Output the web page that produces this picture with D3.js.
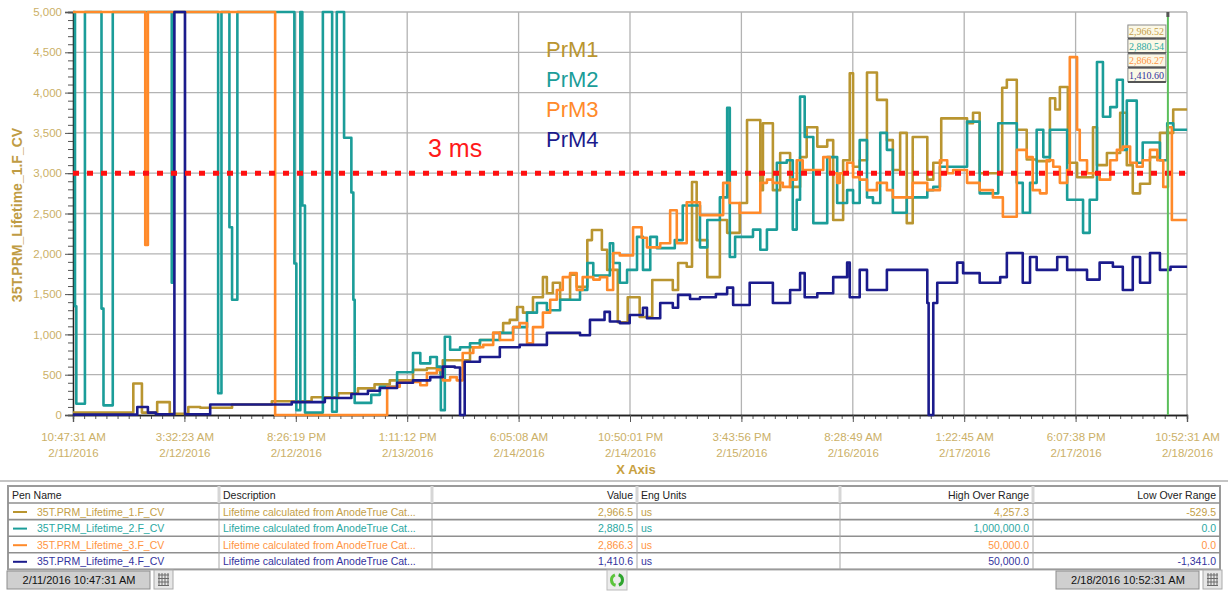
<!DOCTYPE html>
<html>
<head>
<meta charset="utf-8">
<script src="https://cdn.jsdelivr.net/npm/d3@7"></script>
<style>
body { margin: 0; background: #fff; }
svg { display: block; font-family: Arial, "Liberation Sans", sans-serif; }
</style>
</head>
<body>
<svg id="chart" width="1228" height="593"></svg>
<script>
// trend values: [hours since 2/11/2016 10:47:31 AM, lifetime in us]
var prm1 = [[0,30],[9.1,390],[10.4,30],[12.7,160],[14.6,15],[17.4,100],[19.2,90],[24,130],[30,170],[36,220],[40,270],[43,330],[45.5,380],[47.8,430],[51.3,560],[53.4,580],[55.4,520],[55.8,680],[59.9,840],[61.4,930],[63.4,1020],[64.9,1140],[65.9,1180],[67.0,1340],[67.9,1270],[69.4,1460],[70.9,1710],[71.5,1510],[72.4,1640],[73.5,1430],[75.0,1740],[76.0,1590],[77.6,2170],[78.3,2295],[79.8,2050],[80.6,1800],[82.2,1150],[83.7,1460],[85.5,1215],[87.4,1675],[90.5,1550],[91.3,1886],[92.6,1840],[93.4,2890],[94.1,2170],[95.7,1710],[97.6,2420],[98.7,2260],[100.6,2630],[101.7,3660],[103.7,2790],[104.1,3620],[105.6,2790],[106.7,3250],[108.2,2830],[109.7,3200],[110.7,3570],[112.3,3330],[113.8,3410],[114.7,2420],[116.2,3160],[117.2,4240],[117.7,3080],[118.7,3160],[119.8,4250],[121.3,3910],[122.8,3410],[123.7,3040],[124.8,3500],[125.8,2380],[126.7,3450],[128.9,2920],[129.8,3130],[131.0,3680],[134.9,3620],[135.8,3750],[136.8,3000],[140.2,4060],[140.9,4160],[142.4,3540],[143.9,3170],[145.4,3150],[147.4,3930],[148.2,3790],[148.9,4070],[150.1,3130],[151.5,2950],[153.9,3570],[154.5,3100],[156.0,3250],[158.0,3750],[159.0,3100],[159.9,2750],[161.0,2870],[162.5,3200],[164.0,3500],[166.0,3790],[168.1,3790]];

var prm2 = [[0,5000],[0.3,1350],[0.5,140],[1.8,5000],[4.3,1320],[4.6,120],[6.0,5000],[14.9,1640],[15.1,5000],[21.9,270],[22.4,5000],[23.6,2330],[24.0,1430],[24.8,5000],[33.4,1880],[33.7,60],[34.3,5000],[34.6,2600],[35.0,30],[37.7,5000],[39.1,40],[39.8,5000],[40.9,3440],[42.0,2760],[42.3,1430],[42.5,150],[45.0,250],[46.3,350],[48.9,530],[51.3,770],[52.4,640],[53.9,720],[54.9,600],[55.5,60],[56.1,970],[56.9,810],[58.4,840],[59.9,890],[61.4,930],[64.4,1020],[66.4,1090],[68.5,1270],[70.0,1390],[71.5,1300],[73.5,1430],[76.5,1550],[77.6,1886],[78.5,1730],[81.0,2130],[81.5,1886],[82.5,1640],[83.6,1800],[85.1,2210],[86.0,1800],[87.1,2210],[88.1,2070],[90.8,2170],[92.0,2600],[94.6,2080],[95.7,2420],[97.6,2700],[98.7,3810],[99.1,1960],[99.9,2210],[102.6,2300],[103.7,2050],[104.7,2300],[106.2,3130],[107.7,3160],[108.6,2300],[109.2,2670],[109.7,3950],[110.4,3450],[111.7,2380],[113.8,3200],[115.3,2630],[116.8,2790],[117.7,2630],[118.7,3410],[119.8,2700],[120.7,2630],[121.8,3500],[122.8,3290],[123.7,2510],[125.8,2700],[128.9,2790],[129.8,2830],[130.8,3080],[134.9,3640],[136.8,2750],[139.6,3620],[142.4,2880],[143.3,2510],[144.4,2880],[145.4,3540],[146.4,3200],[147.4,3540],[150.0,2670],[152.4,2260],[153.4,2670],[154.5,4380],[155.4,3700],[156.5,3820],[157.5,4160],[158.4,3290],[159.0,3900],[160.5,3130],[161.4,3380],[164.0,3160],[165.1,3620],[166.0,3540],[168.1,3540]];

var prm3 = [[0,5000],[10.9,2110],[11.3,5000],[30.5,0],[47.4,350],[49.3,410],[52.4,370],[53.4,520],[54.9,560],[55.8,430],[56.9,470],[57.9,430],[58.8,770],[60.4,840],[61.9,870],[63.4,1020],[64.4,930],[66.4,1090],[67.4,1140],[68.5,890],[69.4,1090],[70.9,1270],[72.0,1430],[73.0,1550],[73.9,1710],[75.0,1760],[76.0,1550],[76.9,1710],[78.5,1680],[79.5,1710],[80.6,1550],[81.5,2010],[82.5,1980],[84.5,2330],[85.8,2200],[86.6,2080],[88.6,2130],[90.1,2540],[91.1,2130],[92.6,2640],[94.6,2480],[98.1,2880],[99.1,2630],[100.6,2510],[103.7,2880],[104.7,2920],[105.6,2880],[107.1,2830],[108.2,2920],[109.2,3160],[110.1,3040],[113.2,3200],[114.2,3000],[115.3,2880],[115.7,3000],[116.8,3130],[117.7,2950],[118.7,2920],[119.8,2790],[121.3,2880],[122.8,2790],[123.7,2700],[126.7,2880],[128.9,2790],[130.8,3160],[131.9,3000],[132.8,3040],[134.9,2880],[136.8,2790],[138.8,2700],[140.3,2460],[142.4,3290],[143.9,3200],[144.8,2790],[145.9,2750],[146.9,3160],[147.9,3080],[148.9,2880],[150.0,3040],[150.4,4440],[151.5,3540],[151.9,3160],[153.0,3000],[154.9,2920],[156.5,3160],[157.5,3290],[158.4,3330],[159.5,3130],[160.5,3080],[161.4,3160],[162.5,3290],[163.6,3160],[164.5,2830],[165.2,3570],[165.8,2420],[168.1,2420]];

var prm4 = [[0,5],[9.7,100],[11.3,30],[12.5,10],[15.3,5000],[16.9,10],[20.7,130],[27,130],[33,160],[38,210],[42,260],[44.5,300],[46.3,335],[48.9,400],[51.3,430],[53.9,470],[55.8,600],[57.6,590],[58.4,0],[59.1,660],[61.4,720],[64.4,840],[67.4,870],[71.5,1020],[76.5,990],[78.0,1180],[80.2,1280],[81.0,1160],[82.5,1140],[84.0,1240],[86.0,1330],[86.6,1200],[88.6,1390],[90.5,1330],[91.3,1490],[93.1,1440],[94.6,1460],[97.0,1500],[98.7,1580],[99.6,1365],[102.1,1640],[105.6,1390],[108.2,1550],[109.7,1760],[110.4,1460],[112.3,1510],[114.7,1710],[116.8,1890],[117.2,1460],[118.7,1800],[119.8,1550],[122.8,1800],[128.9,1390],[129.1,0],[129.8,1390],[130.4,1640],[133.4,1890],[134.3,1760],[136.8,1640],[139.9,1710],[140.9,2010],[143.3,1640],[144.4,1960],[145.4,1800],[148.5,1960],[150.0,1800],[153.0,1680],[154.9,1890],[156.9,1840],[158.4,1550],[159.9,1960],[161.0,1640],[162.5,2010],[164.0,1800],[165.6,1840],[168.1,1840]];

var seriesNames = ["PrM1", "PrM2", "PrM3", "PrM4"];
var penNames = ["35T.PRM_Lifetime_1.F_CV", "35T.PRM_Lifetime_2.F_CV", "35T.PRM_Lifetime_3.F_CV", "35T.PRM_Lifetime_4.F_CV"];
var description = "Lifetime calculated from AnodeTrue Cat...";
var penValues = ["2,966.5", "2,880.5", "2,866.3", "1,410.6"];
var engUnits = ["us", "us", "us", "us"];
var highOverRange = ["4,257.3", "1,000,000.0", "50,000.0", "50,000.0"];
var lowOverRange = ["-529.5", "0.0", "0.0", "-1,341.0"];
var cursorValues = ["2,966.52", "2,880.54", "2,866.27", "1,410.60"];

var xTickTimes = ["10:47:31 AM", "3:32:23 AM", "8:26:19 PM", "1:11:12 PM", "6:05:08 AM", "10:50:01 PM", "3:43:56 PM", "8:28:49 AM", "1:22:45 AM", "6:07:38 PM", "10:52:31 AM"];
var xTickDates = ["2/11/2016", "2/12/2016", "2/12/2016", "2/13/2016", "2/14/2016", "2/14/2016", "2/15/2016", "2/16/2016", "2/17/2016", "2/17/2016", "2/18/2016"];
var startStamp = "2/11/2016 10:47:31 AM", endStamp = "2/18/2016 10:52:31 AM";

var spanHours = 168.083, cursorHour = 165.2;
var yMax = 5000, threshold = 3000;

var lineColors = ["#b99530", "#1b9d99", "#ff8a2a", "#1b1b8c"];
var textColors = ["#c4a048", "#2aa8a2", "#ff9544", "#33339e"];
var tickText = "#cbb067";

var svg = d3.select("#chart");
var plotL = 73, plotR = 1187, plotT = 12, plotB = 415;

var x = d3.scaleLinear().domain([0, spanHours]).range([plotL, plotR]);
var y = d3.scaleLinear().domain([0, yMax]).range([plotB, plotT]);

var majorX = d3.range(11).map(function(i) { return i * spanHours / 10; });
var minorX = d3.range(101).map(function(i) { return i * spanHours / 100; });

// grid
var grid = svg.append("g").attr("stroke", "#b3b3b3").attr("stroke-width", 1.3);
grid.selectAll("line.h").data(d3.range(500, yMax + 1, 500)).enter().append("line")
    .attr("x1", plotL).attr("x2", plotR)
    .attr("y1", function(d) { return y(d); }).attr("y2", function(d) { return y(d); });
grid.selectAll("line.v").data(majorX.slice(1)).enter().append("line")
    .attr("y1", plotT).attr("y2", plotB)
    .attr("x1", function(d) { return x(d); }).attr("x2", function(d) { return x(d); });

// y axis
var yMinor = svg.append("g").attr("transform", "translate(" + plotL + ",0)")
    .call(d3.axisLeft(y).tickValues(d3.range(0, yMax + 1, 100)).tickSize(5).tickFormat(""));
var yAxis = svg.append("g").attr("transform", "translate(" + plotL + ",0)")
    .call(d3.axisLeft(y).tickValues(d3.range(0, yMax + 1, 500)).tickSize(8).tickPadding(3).tickFormat(d3.format(",")));
[yMinor, yAxis].forEach(function(g) {
    g.select(".domain").attr("stroke", "#222").attr("stroke-width", 1.3);
    g.selectAll(".tick line").attr("stroke", "#555");
});
yAxis.selectAll(".tick text").attr("fill", tickText).attr("font-size", 11.5)
    .attr("font-family", "Arial, 'Liberation Sans', sans-serif");

svg.append("text")
    .attr("transform", "translate(22,215) rotate(-90)")
    .attr("text-anchor", "middle")
    .attr("font-size", 14).attr("font-weight", "bold")
    .attr("fill", "#bf9c44")
    .text(penNames[0]);

// x axis
var xMinor = svg.append("g").attr("transform", "translate(0," + plotB + ")")
    .call(d3.axisBottom(x).tickValues(minorX).tickSize(4).tickFormat(""));
var xAxis = svg.append("g").attr("transform", "translate(0," + plotB + ")")
    .call(d3.axisBottom(x).tickValues(majorX).tickSize(7).tickFormat(""));
[xMinor, xAxis].forEach(function(g) {
    g.select(".domain").attr("stroke", "#222").attr("stroke-width", 1.3);
    g.selectAll(".tick line").attr("stroke", "#555");
});
xAxis.selectAll(".tick").each(function(d, i) {
    var t = d3.select(this).append("text")
        .attr("fill", tickText).attr("font-size", 11.5).attr("text-anchor", "middle")
        .attr("font-family", "Arial, 'Liberation Sans', sans-serif");
    t.append("tspan").attr("x", 0).attr("y", 26).text(xTickTimes[i]);
    t.append("tspan").attr("x", 0).attr("y", 42).text(xTickDates[i]);
});
svg.append("text").attr("x", 636).attr("y", 474).attr("text-anchor", "middle")
    .attr("font-size", 13).attr("font-weight", "bold").attr("fill", "#c8a040")
    .text("X Axis");

// trends
var line = d3.line()
    .x(function(d) { return x(d[0]); })
    .y(function(d) { return y(d[1]); })
    .curve(d3.curveStepAfter);

[prm1, prm2, prm3, prm4].forEach(function(s, i) {
    svg.append("path").datum(s)
        .attr("fill", "none")
        .attr("stroke", lineColors[i])
        .attr("stroke-width", 2.6)
        .attr("stroke-linejoin", "round")
        .attr("d", line);
});

// 3 ms limit
svg.append("line")
    .attr("x1", plotL).attr("x2", plotR)
    .attr("y1", y(threshold)).attr("y2", y(threshold))
    .attr("stroke", "#ff1010").attr("stroke-width", 5)
    .attr("stroke-dasharray", "6,8");
svg.append("text").attr("x", 428).attr("y", 157)
    .attr("font-size", 25).attr("fill", "#ff1a1a").text("3 ms");

// legend
svg.selectAll("text.legend").data(seriesNames).enter().append("text")
    .attr("class", "legend")
    .attr("x", 546).attr("y", function(d, i) { return 57 + i * 30; })
    .attr("font-size", 22).attr("fill", function(d, i) { return lineColors[i]; })
    .text(function(d) { return d; });

// cursor
var cx = x(cursorHour);
svg.append("line").attr("x1", cx).attr("x2", cx).attr("y1", plotT).attr("y2", plotB)
    .attr("stroke", "#5bbf5b").attr("stroke-width", 2);
svg.append("rect").attr("x", cx - 1.5).attr("y", plotT).attr("width", 3).attr("height", 5).attr("fill", "#555");

var box = svg.append("g");
cursorValues.forEach(function(v, i) {
    var by = 25 + i * 14.5;
    box.append("rect").attr("x", cx - 40).attr("y", by).attr("width", 38).attr("height", 13)
        .attr("fill", "#fbf8e6").attr("stroke", "#8a8a8a").attr("stroke-width", 1);
    box.append("line").attr("x1", cx - 40).attr("x2", cx - 2).attr("y1", by + 13.5).attr("y2", by + 13.5)
        .attr("stroke", "#555").attr("stroke-width", 2);
    box.append("text").attr("x", cx - 4).attr("y", by + 10).attr("text-anchor", "end")
        .attr("font-family", "'Liberation Serif', 'DejaVu Serif', serif").attr("font-size", 10)
        .attr("fill", textColors[i]).text(v);
});

// separator above the legend table
svg.append("line").attr("x1", 0).attr("x2", 1228).attr("y1", 481).attr("y2", 481)
    .attr("stroke", "#b0b0b0").attr("stroke-width", 1.5);

// pen table
var colEdges = [8, 219, 432, 637, 840, 1033, 1220];
var colHeads = ["Pen Name", "Description", "Value", "Eng Units", "High Over Range", "Low Over Range"];
var colAlign = ["start", "start", "end", "start", "end", "end"];
var tTop = 486, headH = 17, rowH = 16.6;
var tBottom = tTop + headH + rowH * 4;
var table = svg.append("g").attr("font-size", 10.5);

table.append("rect").attr("x", colEdges[0]).attr("y", tTop)
    .attr("width", colEdges[6] - colEdges[0]).attr("height", tBottom - tTop)
    .attr("fill", "#fff").attr("stroke", "#9a9a9a").attr("stroke-width", 2);
d3.range(4).forEach(function(r) {
    var ly = tTop + headH + r * rowH;
    table.append("line").attr("x1", colEdges[0]).attr("x2", colEdges[6])
        .attr("y1", ly).attr("y2", ly)
        .attr("stroke", "#8f8f8f").attr("stroke-width", 1.6);
});
colEdges.slice(1, 6).forEach(function(cxe) {
    table.append("line").attr("x1", cxe).attr("x2", cxe).attr("y1", tTop).attr("y2", tTop + headH)
        .attr("stroke", "#d6d6d6").attr("stroke-width", 3);
    table.append("line").attr("x1", cxe).attr("x2", cxe).attr("y1", tTop + headH).attr("y2", tBottom)
        .attr("stroke", "#a8a8a8").attr("stroke-width", 1);
});

function cellX(c) {
    return colAlign[c] === "end" ? colEdges[c + 1] - 4 : colEdges[c] + 4;
}
colHeads.forEach(function(h, c) {
    table.append("text").attr("x", cellX(c)).attr("y", tTop + 12.5)
        .attr("text-anchor", colAlign[c]).attr("fill", "#222").text(h);
});
penNames.forEach(function(p, r) {
    var ry = tTop + headH + r * rowH;
    var cells = [p, description, penValues[r], engUnits[r], highOverRange[r], lowOverRange[r]];
    table.append("line").attr("x1", 13).attr("x2", 27).attr("y1", ry + 9).attr("y2", ry + 9)
        .attr("stroke", lineColors[r]).attr("stroke-width", 2);
    cells.forEach(function(v, c) {
        table.append("text")
            .attr("x", c === 0 ? 37 : cellX(c)).attr("y", ry + 12.5)
            .attr("text-anchor", colAlign[c]).attr("fill", textColors[r]).text(v);
    });
});

// footer: time range boxes and buttons
function stampBox(x0, label) {
    svg.append("rect").attr("x", x0).attr("y", 571).attr("width", 143).attr("height", 18)
        .attr("fill", "#cfcfcf").attr("stroke", "#8d8d8d").attr("stroke-width", 1);
    svg.append("text").attr("x", x0 + 72).attr("y", 584).attr("text-anchor", "middle")
        .attr("font-size", 11).attr("fill", "#111").text(label);
    var ix = x0 + 147;
    svg.append("rect").attr("x", ix).attr("y", 570).attr("width", 19).attr("height", 19)
        .attr("fill", "#e6e6e6").attr("stroke", "#aaa");
    var cal = svg.append("g").attr("stroke", "#6a6a6a").attr("stroke-width", 1);
    d3.range(4).forEach(function(k) {
        cal.append("line").attr("x1", ix + 5 + k * 3).attr("x2", ix + 5 + k * 3).attr("y1", 573).attr("y2", 586);
    });
    d3.range(4).forEach(function(k) {
        cal.append("line").attr("x1", ix + 4).attr("x2", ix + 15).attr("y1", 575 + k * 3.5).attr("y2", 575 + k * 3.5);
    });
}
stampBox(7, startStamp);
stampBox(1056, endStamp);

var arc = d3.arc().innerRadius(4).outerRadius(7);
var refresh = svg.append("g").attr("transform", "translate(617,580)");
refresh.append("rect").attr("x", -10).attr("y", -10).attr("width", 20).attr("height", 20)
    .attr("fill", "#ececec").attr("stroke", "#bbb");
refresh.append("path").attr("d", arc({ startAngle: 0.3, endAngle: 2.8 })).attr("fill", "#2fa52f");
refresh.append("path").attr("d", arc({ startAngle: 3.4, endAngle: 5.9 })).attr("fill", "#5cc43c");
</script>
</body>
</html>
